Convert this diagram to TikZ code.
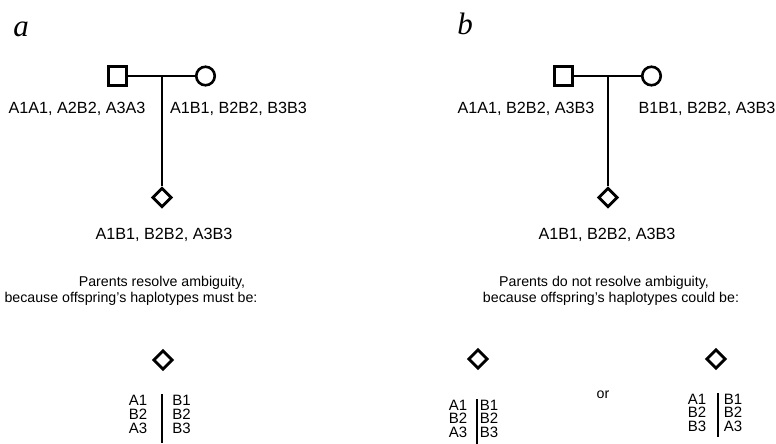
\documentclass[tikz,border=0pt]{standalone}
\usepackage{fontspec}
\setmainfont{Liberation Sans}
\newfontfamily\panelfont{Liberation Serif}
\usetikzlibrary{shapes.geometric}
\begin{document}
\begin{tikzpicture}[x=1pt,y=-1pt,
  male/.style={draw, line width=2.6pt, rectangle, minimum size=18.5pt, inner sep=0pt},
  female/.style={draw, line width=2.6pt, circle, minimum size=18.5pt, inner sep=0pt},
  child/.style={draw, line width=2.8pt, diamond, minimum size=19.5pt, inner sep=0pt},
  link/.style={line width=2pt},
  lab/.style={font=\fontsize{16.2}{19}\selectfont, anchor=base, inner sep=0pt},
  para/.style={font=\fontsize{14.2}{17}\selectfont, anchor=base, inner sep=0pt},
  hap/.style={font=\fontsize{15}{15}\selectfont, anchor=base, inner sep=0pt},
  bar/.style={line width=1.4pt},
  panel/.style={font=\panelfont\itshape\fontsize{31}{31}\selectfont, anchor=base, inner sep=0pt}]
\useasboundingbox (0,0) rectangle (776,444);

% ---------- panel a ----------
\node[panel] (pa) at (21,37) {a};
\node[male] (sqa) at (117.5,76) {};
\node[female] (cia) at (205.5,76) {};
\coordinate (ja) at (162,76);
\node[child] (cha) at (162,197.5) {};
\draw[link] (sqa) -- (cia);
\draw[link] (ja) -- (cha.north);
\node[lab] (la1) at (77,113.5) {A1A1, A2B2, A3A3};
\node[lab] (la2) at (238.5,113.5) {A1B1, B2B2, B3B3};
\node[lab] (la3) at (164,239.5) {A1B1, B2B2, A3B3};
\node[para] (pa1) at (162,286) {Parents resolve ambiguity,};
\node[para] (pa2) at (131,302) {because offspring's haplotypes must be:};
\node[child] (ra) at (163,360) {};
\node[hap] (ra1l) at (138,405) {A1};
\node[hap] (ra1r) at (181.5,405) {B1};
\node[hap] (ra2l) at (138,419) {B2};
\node[hap] (ra2r) at (181.5,419) {B2};
\node[hap] (ra3l) at (138,433) {A3};
\node[hap] (ra3r) at (181.5,433) {B3};
\coordinate (bat) at (162,394);
\coordinate (bab) at (162,443);
\draw[bar] (bat) -- (bab);

% ---------- panel b ----------
\node[panel] (pb) at (465,35) {b};
\node[male] (sqb) at (563.5,76) {};
\node[female] (cib) at (651.5,76) {};
\coordinate (jb) at (608,76);
\node[child] (chb) at (608,197.5) {};
\draw[link] (sqb) -- (cib);
\draw[link] (jb) -- (chb.north);
\node[lab] (lb1) at (526,113.5) {A1A1, B2B2, A3B3};
\node[lab] (lb2) at (707,113.5) {B1B1, B2B2, A3B3};
\node[lab] (lb3) at (607,239.5) {A1B1, B2B2, A3B3};
\node[para] (pb1) at (604,286) {Parents do not resolve ambiguity,};
\node[para] (pb2) at (611,302) {because offspring's haplotypes could be:};
% left alternative
\node[child] (rb) at (478,359) {};
\node[hap] (rb1l) at (458,410) {A1};
\node[hap] (rb1r) at (489,410) {B1};
\node[hap] (rb2l) at (458,423.5) {B2};
\node[hap] (rb2r) at (489,423.5) {B2};
\node[hap] (rb3l) at (458,437) {A3};
\node[hap] (rb3r) at (489,437) {B3};
\coordinate (bbt) at (477,399);
\coordinate (bbb) at (477,444);
\draw[bar] (bbt) -- (bbb);
\node[para] (or) at (603,398) {or};
% right alternative
\node[child] (rc) at (716,359) {};
\node[hap] (rc1l) at (697,404) {A1};
\node[hap] (rc1r) at (733,404) {B1};
\node[hap] (rc2l) at (697,417.5) {B2};
\node[hap] (rc2r) at (733,417.5) {B2};
\node[hap] (rc3l) at (697,431) {B3};
\node[hap] (rc3r) at (733,431) {A3};
\coordinate (bct) at (718,393);
\coordinate (bcb) at (718,437);
\draw[bar] (bct) -- (bcb);
\end{tikzpicture}
\end{document}
